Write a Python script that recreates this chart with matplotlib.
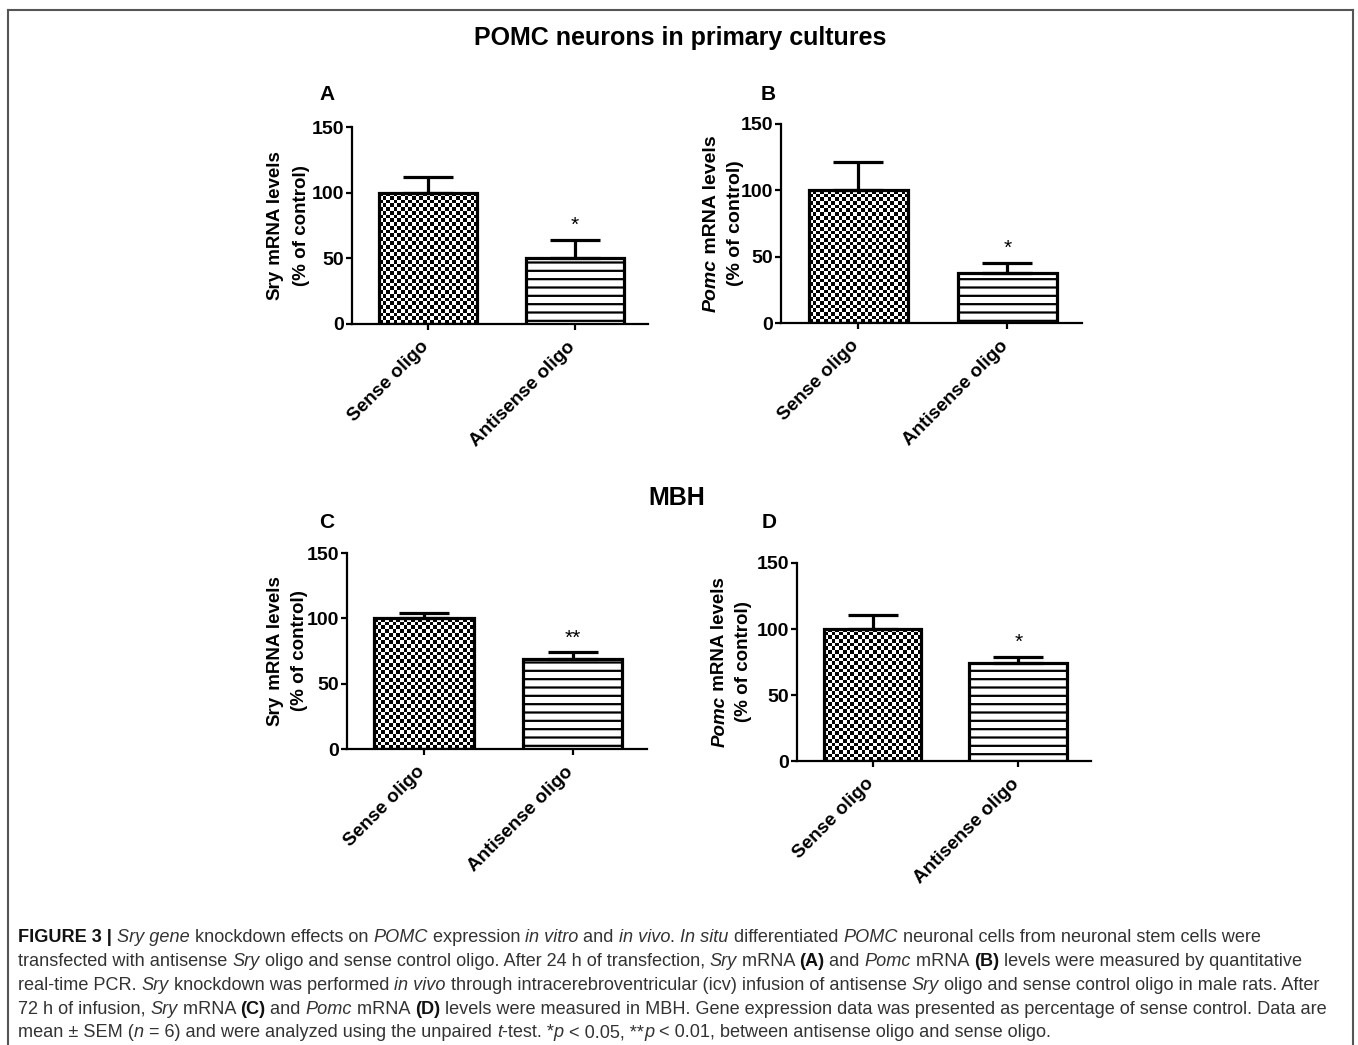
import numpy as np
import matplotlib
matplotlib.use("Agg")
import matplotlib.pyplot as plt
from matplotlib.lines import Line2D
from matplotlib.transforms import ScaledTranslation

plt.rcParams['font.family'] = ['Liberation Sans', 'DejaVu Sans']
plt.rcParams['hatch.linewidth'] = 1.6

# ---------------- data ----------------
categories = ["Sense oligo", "Antisense oligo"]
sry_culture = [100, 50]
sry_culture_err = [12, 14]
pomc_culture = [100, 38]
pomc_culture_err = [21.5, 7]
sry_mbh = [100, 68.5]
sry_mbh_err = [4, 5.5]
pomc_mbh = [100, 74]
pomc_mbh_err = [10.5, 5]
stars = ["*", "*", "**", "*"]
panel_letters = ["A", "B", "C", "D"]
yticks = [0, 50, 100, 150]
ylabel_first = ["Sry", "Pomc", "Sry", "Pomc"]
ylabel_first_style = ["normal", "italic", "normal", "italic"]

W, H = 1358, 1045
fig = plt.figure(figsize=(W / 100, H / 100), dpi=100)
renderer = fig.canvas.get_renderer()


def px_axes(left, top, right, bottom):
    return [left / W, 1 - bottom / H, (right - left) / W, (bottom - top) / H]


def checker_fill(ax, bar, cell_px=3.7):
    x0, y0 = bar.get_x(), bar.get_y()
    w, h = bar.get_width(), bar.get_height()
    p0 = ax.transData.transform((x0, y0))
    p1 = ax.transData.transform((x0 + w, y0 + h))
    nx = max(1, int(round((p1[0] - p0[0]) / cell_px)))
    ny = max(1, int(round((p1[1] - p0[1]) / cell_px)))
    arr = np.add.outer(np.arange(ny), np.arange(nx)) % 2
    im = ax.imshow(arr, cmap='gray', extent=(x0, x0 + w, y0, y0 + h), origin='lower',
                   interpolation='nearest', aspect='auto', zorder=1.5)
    im.set_clip_path(bar)


def panel(rect, values, errs, star, xlim):
    ax = fig.add_axes(rect)
    ax.set_xlim(*xlim)
    ax.set_ylim(0, 150)
    x = np.arange(len(categories))
    bars = ax.bar(x, values, width=0.67, facecolor='none', edgecolor='black',
                  linewidth=2.3, zorder=2)
    bars[1].set_facecolor('white')
    bars[1].set_hatch('--')
    checker_fill(ax, bars[0])
    for xi, v, e in zip(x, values, errs):
        ax.errorbar(xi, v, yerr=[[0], [e]], fmt='none', ecolor='black',
                    elinewidth=2.3, capsize=18, capthick=2.3, zorder=3)
    ax.text(x[1], values[1] + errs[1] + 11, star, ha='center', va='center',
            fontsize=15, zorder=4)
    ax.set_xlim(*xlim)
    ax.set_ylim(0, 150)
    ax.spines['top'].set_visible(False)
    ax.spines['right'].set_visible(False)
    ax.spines['left'].set_linewidth(1.6)
    ax.spines['bottom'].set_linewidth(1.6)
    ax.tick_params(axis='y', length=4.5, width=1.6, pad=1)
    ax.tick_params(axis='x', length=4.5, width=1.6, pad=5)
    ax.set_yticks(yticks)
    ax.set_yticklabels([str(t) for t in yticks], fontsize=14, fontweight='bold')
    ax.set_xticks(x)
    ax.set_xticklabels(categories, fontsize=13.6, fontweight='bold', rotation=45,
                       ha='right', va='top', rotation_mode='anchor')
    off = ScaledTranslation(-8 / 100, -1 / 100, fig.dpi_scale_trans)
    for lab in ax.get_xticklabels():
        lab.set_transform(lab.get_transform() + off)
    ax.set_facecolor('none')
    return ax


def ylabel(ax, first, first_style, rest, x1, x2, fs=13.5):
    # line 1 (x1 px): first word (maybe italic) + rest ; line 2 (x2 px): (% of control)
    t1 = fig.text(0, 0, first, fontsize=fs, fontweight='bold', fontstyle=first_style)
    t2 = fig.text(0, 0, "x" + rest + "x", fontsize=fs, fontweight='bold')
    tx = fig.text(0, 0, "xx", fontsize=fs, fontweight='bold')
    w1 = t1.get_window_extent(renderer).width
    w2 = t2.get_window_extent(renderer).width - tx.get_window_extent(renderer).width
    for t in (t1, t2, tx):
        t.remove()
    bb = ax.get_window_extent(renderer)
    cy_px = bb.y0 + 0.5 * bb.height
    total = w1 + w2
    ystart = cy_px - total / 2
    fx1 = x1 / W
    fx2 = x2 / W
    fig.text(fx1, ystart / H, first, rotation=90, fontsize=fs, fontweight='bold',
             fontstyle=first_style, ha='center', va='bottom')
    fig.text(fx1, (ystart + w1) / H, rest, rotation=90, fontsize=fs, fontweight='bold',
             ha='center', va='bottom')
    fig.text(fx2, cy_px / H, "(% of control)", rotation=90, fontsize=fs, fontweight='bold',
             ha='center', va='center')


xl = (-0.52, 1.5)
axA = panel(px_axes(352, 127, 648, 324), sry_culture, sry_culture_err, stars[0], xl)
axB = panel(px_axes(781, 124, 1082, 323), pomc_culture, pomc_culture_err, stars[1], xl)
axC = panel(px_axes(347, 553, 647, 749), sry_mbh, sry_mbh_err, stars[2], xl)
axD = panel(px_axes(797, 563, 1091, 761), pomc_mbh, pomc_mbh_err, stars[3], xl)
axes = [axA, axB, axC, axD]

label_x = [(275, 302), (711, 735), (275, 300), (720, 743)]
label_fs = [13.5, 14, 13.5, 13.5]
for ax, f, s, (x1, x2), fs in zip(axes, ylabel_first, ylabel_first_style, label_x, label_fs):
    ylabel(ax, f, s, " mRNA levels", x1, x2, fs)

for letter, (lx, ly) in zip(panel_letters, [(327, 95), (768, 95), (327, 523), (769, 523)]):
    fig.text(lx / W, 1 - ly / H, letter, fontsize=15, fontweight='bold', ha='center', va='center')

fig.text(680 / W, 1 - 38 / H, "POMC neurons in primary cultures", fontsize=18,
         fontweight='bold', ha='center', va='center')
fig.text(677 / W, 1 - 498 / H, "MBH", fontsize=18, fontweight='bold', ha='center', va='center')

# border
bc = '#555555'
fig.add_artist(Line2D([8 / W, 8 / W], [0, 1 - 10 / H], transform=fig.transFigure, color=bc, lw=1.5))
fig.add_artist(Line2D([8 / W, 1353 / W], [1 - 10 / H, 1 - 10 / H], transform=fig.transFigure, color=bc, lw=1.5))
fig.add_artist(Line2D([1353 / W, 1353 / W], [0, 1 - 10 / H], transform=fig.transFigure, color=bc, lw=1.5))

# caption
caption = [
    [("FIGURE 3 | ", "b"), ("Sry gene", "i"), (" knockdown effects on ", "n"), ("POMC", "i"),
     (" expression ", "n"), ("in vitro", "i"), (" and ", "n"), ("in vivo", "i"), (". ", "n"),
     ("In situ", "i"), (" differentiated ", "n"), ("POMC", "i"),
     (" neuronal cells from neuronal stem cells were", "n")],
    [("transfected with antisense ", "n"), ("Sry", "i"),
     (" oligo and sense control oligo. After 24 h of transfection, ", "n"), ("Sry", "i"),
     (" mRNA ", "n"), ("(A)", "b"), (" and ", "n"), ("Pomc", "i"), (" mRNA ", "n"), ("(B)", "b"),
     (" levels were measured by quantitative", "n")],
    [("real-time PCR. ", "n"), ("Sry", "i"), (" knockdown was performed ", "n"), ("in vivo", "i"),
     (" through intracerebroventricular (icv) infusion of antisense ", "n"), ("Sry", "i"),
     (" oligo and sense control oligo in male rats. After", "n")],
    [("72 h of infusion, ", "n"), ("Sry", "i"), (" mRNA ", "n"), ("(C)", "b"), (" and ", "n"),
     ("Pomc", "i"), (" mRNA ", "n"), ("(D)", "b"),
     (" levels were measured in MBH. Gene expression data was presented as percentage of sense control. Data are", "n")],
    [("mean \u00b1 SEM (", "n"), ("n", "i"), (" = 6) and were analyzed using the unpaired ", "n"),
     ("t", "i"), ("-test. *", "n"), ("p", "i"), (" < 0.05, **", "n"), ("p", "i"),
     (" < 0.01, between antisense oligo and sense oligo.", "n")],
]
cap_y = [938, 961.5, 985, 1009, 1032.5]


def seg_width(txt, style, fs):
    kw = dict(fontsize=fs, fontweight='bold' if style == 'b' else 'normal',
              fontstyle='italic' if style == 'i' else 'normal')
    a = fig.text(0, 0, "x" + txt + "x", **kw)
    b = fig.text(0, 0, "xx", **kw)
    w = a.get_window_extent(renderer).width - b.get_window_extent(renderer).width
    a.remove()
    b.remove()
    return w


base_fs = 10
line2_w = sum(seg_width(t, s, base_fs) for t, s in caption[1])
cap_fs = base_fs * 1290 / line2_w
cap_color = '#333333'
for segs, yy in zip(caption, cap_y):
    x = 18
    for txt, style in segs:
        fig.text(x / W, 1 - yy / H, txt, fontsize=cap_fs,
                 color='#111111' if style == 'b' else cap_color,
                 fontweight='bold' if style == 'b' else 'normal',
                 fontstyle='italic' if style == 'i' else 'normal', ha='left', va='center')
        x += seg_width(txt, style, cap_fs)

fig.savefig("out.png", dpi=100)
